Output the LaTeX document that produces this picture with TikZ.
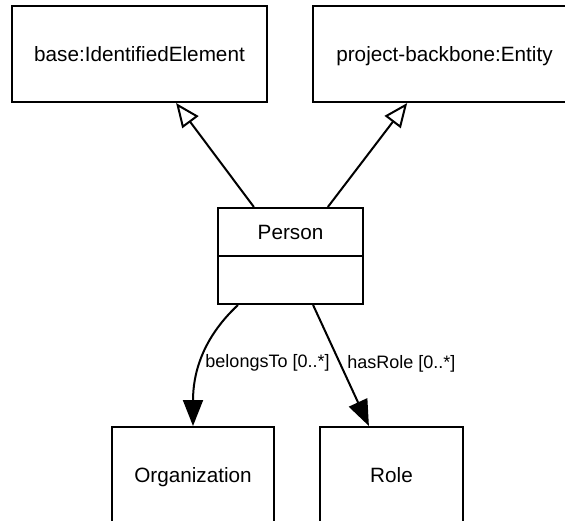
\documentclass[tikz,border=0pt]{standalone}
\usepackage{fontspec}
\setmainfont{Liberation Sans}
\usetikzlibrary{arrows.meta}

\tikzset{
    klassenname/.style={text height=15pt, text depth=0pt, font=\fontsize{20.7}{24}\selectfont},
    klasse/.style={klassenname, draw, line width=2pt, minimum height=96pt},
    erbt/.style={-{Triangle[open,length=24pt,width=20pt]}, line width=2pt},
    assoz/.style={-{Triangle[length=26pt,width=20pt]}, line width=2pt},
    rolle/.style={font=\fontsize{18}{21}\selectfont, inner sep=1pt}
}

\begin{document}
\begin{tikzpicture}[x=1pt,y=1pt]
        % Rahmen festlegen
        \clip (0,0) rectangle (565,-520);

        % zeichne Klassen
        \node[klasse, minimum width=255pt] (base) at (139.5,-54) {base:IdentifiedElement};
        \node[klasse, minimum width=263pt] (entity) at (444.5,-54) {project-backbone:Entity};
        \node[klasse, minimum width=145pt, label={[klassenname,yshift=24pt]center:Person}] (person) at (290.5,-256) {};
        \draw[line width=2pt] (person.west) -- (person.east);
        \node[klasse, minimum width=162pt] (org) at (193,-475) {Organization};
        \node[klasse, minimum width=143pt] (role) at (391.5,-475) {Role};

        % zeichne Vererbung
        \draw[erbt] (person) -- (base);
        \draw[erbt] (person) -- (entity);

        % zeichne Assoziationen
        \draw[assoz] (person) to[out=-137,in=90] node[rolle, pos=0.53, right=3pt] {belongsTo [0..*]} (org);
        \draw[assoz] (person) -- node[rolle, pos=0.49, right=5pt] {hasRole [0..*]} (role);
\end{tikzpicture}
\end{document}
